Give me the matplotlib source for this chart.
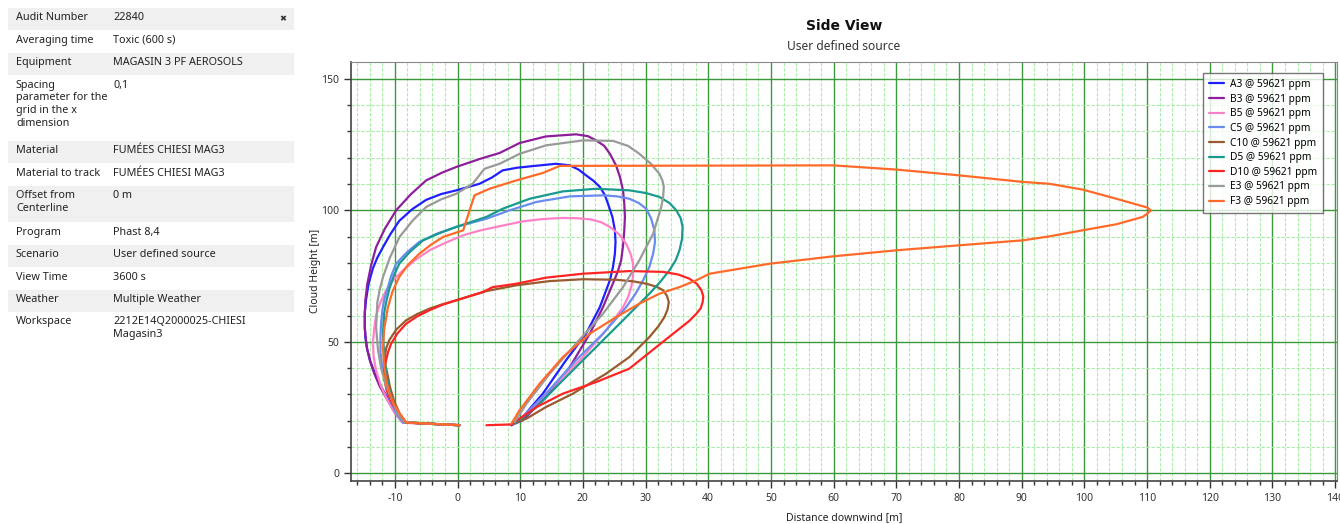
import matplotlib
matplotlib.use("Agg")
import matplotlib.pyplot as plt
from matplotlib.ticker import MultipleLocator

plt.rcParams['font.family'] = ['Noto Sans', 'DejaVu Sans']
plt.rcParams['axes.unicode_minus'] = False

# ---- data (x = distance downwind [m], y = cloud height [m]) ----
a3_x = [0.3, -4, -8.6, -9.8, -11.0, -12.2, -13.2, -13.9, -14.4, -14.7, -14.8, -14.8, -14.6, -14.2, -13.5, -12.8, -11.9, -10.7, -9.3, -7.2, -5.0, -2.6, -0.2, 3.5, 5.5, 7.2, 9.5, 11.5, 15.7, 17.9, 19.3, 20.5, 21.7, 22.7, 23.5, 24.0, 24.7, 25.1, 25.2, 25.1, 24.8, 24.3, 22.7, 20.5, 17.3, 13.6, 10.4, 8.6]
a3_y = [18.3, 18.8, 19.4, 23, 28, 33, 38, 42.5, 47, 51.5, 56, 61, 66, 72, 78, 82, 86, 91, 96, 100.5, 104, 106.2, 107.6, 110.1, 112.5, 115.2, 116.2, 116.7, 117.7, 117.1, 115.5, 113.3, 111.2, 108.9, 105.8, 102.5, 97.5, 92.4, 88, 83.5, 78.5, 73.4, 63.2, 53.1, 43.0, 30.3, 21.4, 18.3]

b3_x = [0.3, -4, -8.8, -10.0, -11.2, -12.4, -13.3, -14.0, -14.5, -14.8, -14.8, -14.7, -14.4, -13.8, -13.0, -11.6, -9.8, -7.5, -5.0, -2.5, -0.2, 3.5, 6.7, 9.9, 14.1, 18.9, 20.8, 22.1, 23.4, 24.3, 25.3, 25.9, 26.4, 26.6, 26.7, 26.6, 26.4, 26.1, 25.6, 25.0, 23.2, 21.1, 17.9, 14.1, 10.4, 8.6]
b3_y = [18.3, 18.8, 19.4, 23, 28, 33, 38, 43, 48, 55, 60.7, 66, 72, 79, 86, 93, 100, 106, 111.4, 114.3, 116.5, 119.5, 121.8, 125.6, 128.1, 128.9, 128.2, 126.6, 124.5, 121.5, 117, 112.7, 107.5, 102.5, 97.5, 92.4, 86.5, 81, 77, 73.4, 63.2, 53.1, 40.4, 29.0, 20.2, 18.3]

b5_x = [0.3, -4, -8.8, -10.0, -11.2, -12.2, -13.0, -13.4, -13.5, -13.3, -13.0, -12.3, -11.4, -10.2, -8.7, -6.7, -4.5, -1.8, 0.9, 3.5, 6.2, 10.4, 13.6, 16.8, 19.0, 21.1, 22.9, 24.3, 25.8, 26.9, 27.6, 28.0, 28.0, 27.7, 27.2, 26.4, 23.7, 20.0, 15.7, 11.5, 9.1]
b5_y = [18.3, 18.8, 19.4, 23, 28, 33, 39, 44.5, 50, 55, 60, 65, 69.6, 73.6, 77.2, 81.2, 84.8, 87.8, 90.5, 92.3, 93.7, 95.8, 96.7, 97.1, 97.0, 96.6, 95.5, 93.7, 90.8, 87.3, 83.5, 79.7, 75, 70.8, 67, 63.2, 54.4, 44.2, 34.1, 24.0, 18.9]

c5_x = [0.3, -4, -8.7, -9.8, -10.8, -11.5, -12.0, -12.3, -12.3, -12.2, -12.0, -11.7, -11.2, -10.6, -9.8, -8.1, -6.1, -3.2, -0.2, 4.6, 8.3, 12.6, 17.9, 23.2, 25.5, 27.4, 28.9, 30.1, 30.9, 31.4, 31.5, 31.2, 30.6, 29.6, 28.4, 26.9, 23.2, 18.9, 14.1, 10.4, 8.8]
c5_y = [18.3, 18.8, 19.4, 23, 28, 34, 40, 46, 52, 57, 62, 66, 70, 75, 79.7, 84, 88.0, 91.2, 93.7, 96.8, 100, 103.2, 105.3, 105.7, 105.3, 104.4, 102.8, 100.6, 96.8, 92.4, 88, 83.5, 78.5, 73.4, 68.3, 63.2, 53.1, 43.0, 30.3, 21.4, 18.6]

c10_x = [0.3, -4, -8.3, -9.3, -10.2, -10.8, -11.2, -11.5, -11.6, -11.4, -10.9, -9.8, -8.2, -6.4, -4.5, -2.4, -0.2, 4.6, 9.4, 14.7, 20.0, 25.3, 28.0, 30.1, 31.7, 32.8, 33.4, 33.7, 33.5, 33.0, 32.0, 30.6, 27.4, 23.7, 18.4, 14.1, 11.0, 8.8]
c10_y = [18.3, 18.8, 19.4, 23, 28, 33, 37.9, 41, 44.2, 47.5, 50.6, 54.6, 58.2, 60.6, 62.6, 64.3, 65.8, 69.3, 71.5, 73.1, 73.8, 73.6, 73.0, 72.1, 71.0, 69.6, 67.5, 65.1, 62.3, 59.4, 55.8, 51.8, 44.2, 37.9, 30.3, 25.2, 20.8, 18.9]

d5_x = [0.3, -4, -8.5, -9.6, -10.5, -11.0, -11.4, -11.7, -11.9, -11.8, -11.7, -11.4, -10.9, -10.2, -9.3, -7.6, -5.5, -2.9, -0.2, 4.6, 7.2, 11.5, 16.8, 22.1, 27.4, 30.0, 32.2, 33.8, 34.9, 35.6, 35.9, 35.8, 35.4, 34.8, 33.8, 32.3, 30.6, 26.4, 21.6, 16.8, 12.6, 9.1]
d5_y = [18.3, 18.8, 19.4, 23, 28, 33, 37.9, 45, 53.1, 57, 61, 65, 70, 75, 79.7, 84.2, 88.6, 91.3, 93.7, 97.5, 100.6, 104.4, 107.2, 108.2, 107.6, 106.6, 105.1, 102.8, 100.0, 97, 93.7, 89, 84.8, 81, 77.2, 72.7, 68.3, 58.2, 46.8, 35.4, 25.2, 18.9]

d10_x = [0.3, -4, -8.2, -9.5, -10.5, -11.3, -11.7, -11.7, -11.4, -11.1, -10.6, -9.6, -8.2, -6.5, -4.5, -2.4, -0.2, 4.0, 5.6, 9.4, 14.1, 20.0, 27.4, 32.8, 35.2, 37.0, 38.2, 38.9, 39.2, 39.1, 38.8, 38.1, 36.9, 35.4, 31.7, 27.4, 22.1, 16.8, 12.6, 9.9, 8.6, 4.6]
d10_y = [18.3, 18.8, 19.2, 23, 27, 31.5, 36, 40, 43.0, 46, 49.3, 53.2, 56.9, 59.6, 62.0, 64.1, 65.8, 68.9, 70.8, 72.1, 74.4, 75.9, 76.9, 76.6, 75.6, 74.0, 72, 69.6, 67.3, 65.1, 62.8, 60.7, 57.8, 55.0, 48.0, 39.8, 34.7, 30.3, 25.2, 20.8, 18.6, 18.3]

e3_x = [0.3, -4, -8.5, -9.6, -10.5, -11.5, -12.2, -12.7, -13.0, -12.9, -12.8, -12.4, -11.9, -10.8, -9.25, -7.2, -5.0, -2.6, -0.2, 2.4, 4.3, 6.7, 9.9, 14.1, 20.0, 24.8, 27.2, 29.0, 30.8, 32.2, 32.7, 32.9, 32.8, 32.5, 31.2, 29.0, 26.4, 23.2, 18.9, 14.7, 11.0, 9.1]
e3_y = [18.3, 18.8, 19.4, 23, 28, 34, 40, 47, 55.6, 60, 65, 70, 74.6, 82, 89.9, 96, 101.3, 104.2, 106.3, 110.1, 115.8, 117.7, 121.5, 124.7, 126.6, 126.4, 124.5, 121.5, 117.8, 113.9, 111.2, 108.9, 105, 101.3, 91.1, 81.0, 70.8, 60.7, 49.3, 37.9, 26.5, 19.5]

f3_x = [0.3, -4, -8.2, -9.3, -10.3, -10.9, -11.4, -11.7, -11.9, -11.7, -11.1, -10.4, -9.3, -7.9, -6.1, -4.2, -2.3, 0.9, 2.7, 5.1, 9.4, 13.6, 16.3, 40, 59.9, 70, 80, 90.2, 94.4, 99.7, 105.1, 108.8, 110.0, 110.6, 110.0, 109.3, 105.1, 99.7, 94.4, 90.2, 80, 70, 59.9, 49.8, 40.2, 38.1, 35.4, 32.2, 29.0, 25.3, 21.1, 16.8, 13.1, 9.9, 8.6]
f3_y = [18.3, 18.8, 19.4, 23, 27, 31, 35.4, 41, 48.0, 55, 63.2, 69, 74.7, 79.3, 83.5, 87, 89.9, 92.4, 105.7, 108.2, 111.4, 114.2, 116.9, 117.0, 117.1, 115.5, 113.3, 110.8, 110.1, 107.9, 104.4, 101.9, 101.1, 100.0, 98.7, 97.5, 94.7, 92.4, 90.1, 88.6, 86.7, 84.8, 82.5, 79.7, 75.9, 73.4, 70.8, 68.3, 64.5, 59.4, 53.1, 44.2, 34.1, 24.0, 18.9]

series_labels = ["A3 @ 59621 ppm", "B3 @ 59621 ppm", "B5 @ 59621 ppm", "C5 @ 59621 ppm",
                 "C10 @ 59621 ppm", "D5 @ 59621 ppm", "D10 @ 59621 ppm", "E3 @ 59621 ppm",
                 "F3 @ 59621 ppm"]
series_colors = ["#1f1fff", "#8e1f9c", "#ff82c8", "#6a8cf0", "#9a5a30",
                 "#1a9a8e", "#ff2424", "#9a9a9a", "#ff6a2a"]

# ---- info panel ----
info_keys = ["Audit Number", "Averaging time", "Equipment",
             "Spacing\nparameter for the\ngrid in the x\ndimension",
             "Material", "Material to track", "Offset from\nCenterline", "Program",
             "Scenario", "View Time", "Weather", "Workspace"]
info_values = ["22840", "Toxic (600 s)", "MAGASIN 3 PF AEROSOLS", "0,1",
               "FUMÉES CHIESI MAG3", "FUMÉES CHIESI MAG3", "0 m", "Phast 8,4",
               "User defined source", "3600 s", "Multiple Weather",
               "2212E14Q2000025-CHIESI\nMagasin3"]


def main():
    fig = plt.figure(figsize=(13.4, 5.24), dpi=100)

    # left table, drawn in pixel coordinates
    tab = fig.add_axes([0, 0, 300 / 1340, 1])
    tab.set_xlim(0, 300)
    tab.set_ylim(524, 0)
    tab.axis("off")
    row_top = 8
    for i, (k, v) in enumerate(zip(info_keys, info_values)):
        nlines = max(k.count("\n"), v.count("\n")) + 1
        h = 8 + 14.4 * nlines
        bg = "#f0f0f0" if i % 2 == 0 else "#ffffff"
        tab.add_patch(plt.Rectangle((8, row_top), 286, h, color=bg, lw=0))
        tab.text(16, row_top + 4.5, k, fontsize=7.8, va="top", ha="left",
                 color="#222222", linespacing=1.2)
        tab.text(113, row_top + 4.5, v, fontsize=7.8, va="top", ha="left",
                 color="#222222", linespacing=1.2)
        row_top += h
    tab.text(283, 19, "✖", fontsize=6, ha="center", va="center", color="#333333",
             family="DejaVu Sans")

    # chart
    ax = fig.add_axes([351 / 1340, 43.3 / 524, 986 / 1340, 418.7 / 524])
    all_x = [a3_x, b3_x, b5_x, c5_x, c10_x, d5_x, d10_x, e3_x, f3_x]
    all_y = [a3_y, b3_y, b5_y, c5_y, c10_y, d5_y, d10_y, e3_y, f3_y]
    for xs, ys, lab, col in zip(all_x, all_y, series_labels, series_colors):
        ax.plot(xs, ys, color=col, lw=1.6, label=lab,
                solid_joinstyle="round", solid_capstyle="round")

    ax.set_xlim(-17.0, 140.3)
    ax.set_ylim(-2.8, 156.4)
    ax.xaxis.set_major_locator(MultipleLocator(10))
    ax.xaxis.set_minor_locator(MultipleLocator(2))
    ax.yaxis.set_major_locator(MultipleLocator(50))
    ax.yaxis.set_minor_locator(MultipleLocator(10))
    ax.grid(which="major", color="#3c983c", lw=1.0)
    ax.grid(which="minor", color="#a8eca8", lw=0.8, linestyle=(0, (3, 1.5)))
    ax.set_axisbelow(True)
    ax.tick_params(which="major", length=5, width=1, labelsize=7.5, colors="#333333")
    ax.tick_params(which="minor", length=3, width=1, colors="#333333")
    for s in ["left", "bottom"]:
        ax.spines[s].set_color("#444444")
        ax.spines[s].set_linewidth(1.2)
    for s in ["top", "right"]:
        ax.spines[s].set_color("#888888")
        ax.spines[s].set_linewidth(0.8)

    ax.set_xlabel("Distance downwind [m]", fontsize=7.5, color="#222222")
    ax.set_ylabel("Cloud Height [m]", fontsize=7.5, color="#222222")
    ax.xaxis.set_label_coords(0.5, -0.075)
    ax.yaxis.set_label_coords(-0.030, 0.5)

    leg = ax.legend(loc="upper right", bbox_to_anchor=(0.991, 0.985), fontsize=7.3,
                    frameon=True, fancybox=False, edgecolor="#555555",
                    handlelength=1.5, labelspacing=0.36, borderpad=0.55,
                    handletextpad=0.6)
    leg.get_frame().set_linewidth(1.0)

    fig.text(844 / 1340, 1 - 26 / 524, "Side View", fontsize=10, weight="bold",
             family="DejaVu Sans", ha="center", va="center", color="#111111")
    fig.text(844 / 1340, 1 - 47 / 524, "User defined source", fontsize=8.6,
             ha="center", va="center", color="#333333")

    fig.savefig("out.png", dpi=100)


if __name__ == "__main__":
    main()
